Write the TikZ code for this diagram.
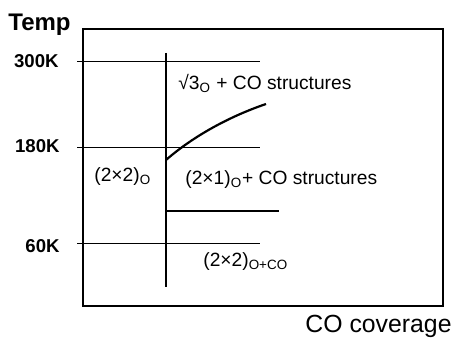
\documentclass[tikz,border=0pt]{standalone}
\usepackage{fontspec}
\setmainfont{Liberation Sans}
\usetikzlibrary{positioning}

\begin{document}
\begin{tikzpicture}[x=0.5pt,y=-0.5pt,
    frame/.style={draw, line width=1.1pt},
    level/.style={line width=0.5pt},
    border/.style={line width=1.1pt},
    axlabel/.style={font=\bfseries\fontsize{9.3}{11}\selectfont, anchor=base east, inner sep=0pt},
    phase/.style={font=\fontsize{9.6}{11}\selectfont, anchor=base west, inner sep=0pt}
]
    \useasboundingbox (0,0) rectangle (456,346);

    % Frame
    \draw[frame] (83,29) rectangle (443,306);

    % Temperature levels
    \coordinate (l300a) at (77,62);  \coordinate (l300b) at (260,62);
    \coordinate (l180a) at (77,148); \coordinate (l180b) at (260,148);
    \coordinate (l60a) at (77,244);  \coordinate (l60b) at (260,244);
    \draw[level] (l300a) -- (l300b);
    \draw[level] (l180a) -- (l180b);
    \draw[level] (l60a) -- (l60b);

    % Phase boundaries
    \coordinate (vtop) at (166,53);  \coordinate (vbot) at (166,287);
    \coordinate (hleft) at (166,211); \coordinate (hright) at (279,211);
    \coordinate (cstart) at (166,160); \coordinate (cend) at (266,104);
    \draw[border] (vtop) -- (vbot);
    \draw[border] (hleft) -- (hright);
    \draw[border] (cstart) .. controls (190,139) and (225,118) .. (cend);

    % Axis labels
    \node[font=\bfseries\fontsize{12}{14}\selectfont, anchor=base west, inner sep=0pt] (temp) at (8,31) {Temp};
    \node[axlabel] (k300) at (59,68) {300K};
    \node[axlabel] (k180) at (60,153) {180K};
    \node[axlabel] (k60) at (60,253) {60K};
    \node[font=\fontsize{12.4}{15}\selectfont, anchor=base east, inner sep=0pt] (cov) at (452,333) {CO coverage};

    % Phases
    \node[phase] (sqrt3) at (178,90) {√3\textsubscript{O} + CO structures};
    \node[phase] (p22o) at (94,182) {(2×2)\textsubscript{O}};
    \node[phase] (p21o) at (185,185) {(2×1)\textsubscript{O}+ CO structures};
    \node[phase] (p22co) at (203,267) {(2×2)\textsubscript{O+CO}};
\end{tikzpicture}
\end{document}
